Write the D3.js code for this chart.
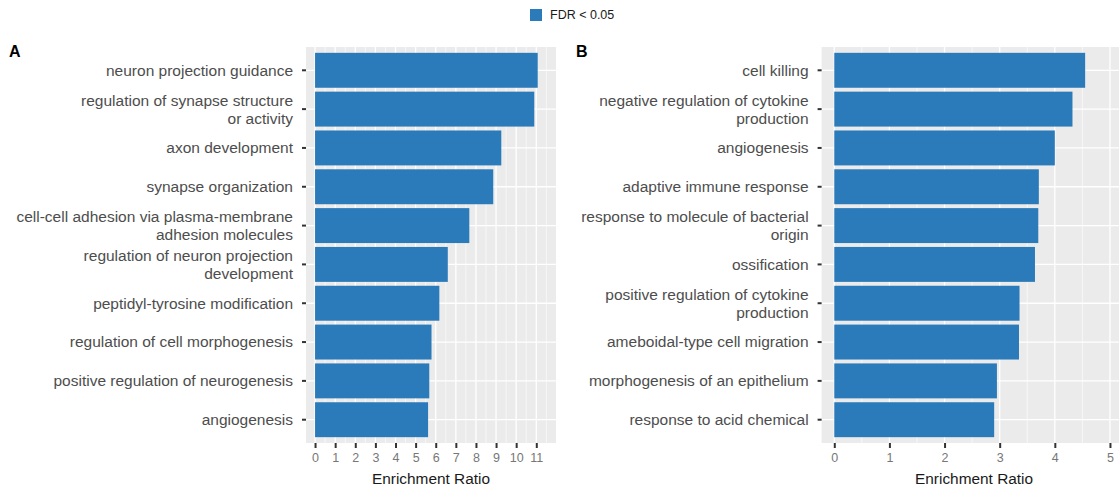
<!DOCTYPE html>
<html>
<head>
<meta charset="utf-8">
<script src="https://cdn.jsdelivr.net/npm/d3@7"></script>
<style>
  body { margin: 0; background: #fff; }
  svg { display: block; font-family: "Liberation Sans", Arial, sans-serif; }
</style>
</head>
<body>
<svg id="chart" width="1119" height="488"></svg>
<script>
// Panel A terms (top to bottom) and enrichment ratios
const termsA = [
  "neuron projection guidance",
  "regulation of synapse structure\nor activity",
  "axon development",
  "synapse organization",
  "cell-cell adhesion via plasma-membrane\nadhesion molecules",
  "regulation of neuron projection\ndevelopment",
  "peptidyl-tyrosine modification",
  "regulation of cell morphogenesis",
  "positive regulation of neurogenesis",
  "angiogenesis"
];
const ratiosA = [11.07, 10.9, 9.26, 8.86, 7.67, 6.6, 6.18, 5.79, 5.68, 5.62];
const ticksA = [0, 1, 2, 3, 4, 5, 6, 7, 8, 9, 10, 11];

// Panel B
const termsB = [
  "cell killing",
  "negative regulation of cytokine\nproduction",
  "angiogenesis",
  "adaptive immune response",
  "response to molecule of bacterial\norigin",
  "ossification",
  "positive regulation of cytokine\nproduction",
  "ameboidal-type cell migration",
  "morphogenesis of an epithelium",
  "response to acid chemical"
];
const ratiosB = [4.55, 4.32, 4.0, 3.71, 3.70, 3.64, 3.36, 3.35, 2.95, 2.90];
const ticksB = [0, 1, 2, 3, 4, 5];

const barColor = "#2b7bba";
const svg = d3.select("#chart");

function drawPanel(opts) {
  const { terms, ratios, ticks, domain, left, right, top, bottom, tag, tagX } = opts;
  const data = terms.map((t, i) => ({ term: t, value: ratios[i] }));

  const x = d3.scaleLinear().domain(domain).range([left, right]);
  const y = d3.scaleBand()
    .domain(terms)
    .range([top, bottom])
    .paddingInner(0.1)
    .paddingOuter(0.15);

  const g = svg.append("g");

  // panel background
  g.append("rect")
    .attr("x", left).attr("y", top)
    .attr("width", right - left).attr("height", bottom - top)
    .attr("fill", "#ebebeb");

  // minor vertical grid (halves)
  const minor = d3.range(Math.ceil(domain[0]) - 0.5, domain[1], 1).filter(v => v > domain[0]);
  g.append("g").selectAll("line")
    .data(minor)
    .join("line")
    .attr("x1", d => x(d)).attr("x2", d => x(d))
    .attr("y1", top).attr("y2", bottom)
    .attr("stroke", "#fff").attr("stroke-width", 0.6);

  // major vertical grid
  const major = d3.range(Math.ceil(domain[0]), domain[1], 1);
  g.append("g").selectAll("line")
    .data(major)
    .join("line")
    .attr("x1", d => x(d)).attr("x2", d => x(d))
    .attr("y1", top).attr("y2", bottom)
    .attr("stroke", "#fff").attr("stroke-width", 1.3);

  // horizontal grid at categories
  g.append("g").selectAll("line")
    .data(terms)
    .join("line")
    .attr("x1", left).attr("x2", right)
    .attr("y1", d => y(d) + y.bandwidth() / 2)
    .attr("y2", d => y(d) + y.bandwidth() / 2)
    .attr("stroke", "#fff").attr("stroke-width", 1.3);

  // bars
  g.append("g").selectAll("rect")
    .data(data)
    .join("rect")
    .attr("x", x(0))
    .attr("y", d => y(d.term))
    .attr("width", d => x(d.value) - x(0))
    .attr("height", y.bandwidth())
    .attr("fill", barColor);

  // y axis
  const yAxis = g.append("g")
    .attr("transform", `translate(${left},0)`)
    .call(d3.axisLeft(y).tickSize(4).tickPadding(5).tickFormat(""));
  yAxis.select(".domain").remove();
  yAxis.selectAll(".tick line").attr("stroke", "#333").attr("stroke-width", 2);

  // wrapped y labels
  yAxis.selectAll(".tick").each(function (d) {
    const lines = d.split("\n");
    const lh = 18;
    const t = d3.select(this).append("text")
      .attr("x", -13)
      .attr("text-anchor", "end")
      .attr("fill", "#4d4d4d")
      .style("font-size", "15.5px");
    lines.forEach((ln, i) => {
      t.append("tspan")
        .attr("x", -13)
        .attr("y", (i - (lines.length - 1) / 2) * lh)
        .attr("dy", "0.35em")
        .text(ln);
    });
  });

  // x axis
  const xAxis = g.append("g")
    .attr("transform", `translate(0,${bottom})`)
    .call(d3.axisBottom(x).tickValues(ticks).tickSize(5).tickPadding(5).tickFormat(d3.format("d")));
  xAxis.select(".domain").remove();
  xAxis.selectAll(".tick line").attr("stroke", "#333").attr("stroke-width", 2);
  xAxis.selectAll(".tick text")
    .attr("fill", "#777")
    .style("font-size", "12.5px")
    .style("font-family", "'Liberation Sans', Arial, sans-serif");

  // axis title
  g.append("text")
    .attr("x", (left + right) / 2)
    .attr("y", bottom + 41)
    .attr("text-anchor", "middle")
    .attr("fill", "#1a1a1a")
    .style("font-size", "15.4px")
    .text("Enrichment Ratio");

  // panel tag
  svg.append("text")
    .attr("x", tagX)
    .attr("y", 57)
    .attr("fill", "#000")
    .style("font-size", "16px")
    .style("font-weight", "bold")
    .text(tag);
}

drawPanel({
  terms: termsA, ratios: ratiosA, ticks: ticksA,
  domain: [-0.45, 11.98], left: 306, right: 556,
  top: 47, bottom: 443, tag: "A", tagX: 9
});

drawPanel({
  terms: termsB, ratios: ratiosB, ticks: ticksB,
  domain: [-0.23, 5.3], left: 821.6, right: 1126.5,
  top: 47, bottom: 443, tag: "B", tagX: 576
});

// legend
const legend = svg.append("g").attr("transform", "translate(530,9)");
legend.append("rect")
  .attr("width", 12).attr("height", 12)
  .attr("fill", barColor);
legend.append("text")
  .attr("x", 20).attr("y", 6)
  .attr("dy", "0.35em")
  .attr("fill", "#1a1a1a")
  .style("font-size", "12.5px")
  .text("FDR < 0.05");
</script>
</body>
</html>
